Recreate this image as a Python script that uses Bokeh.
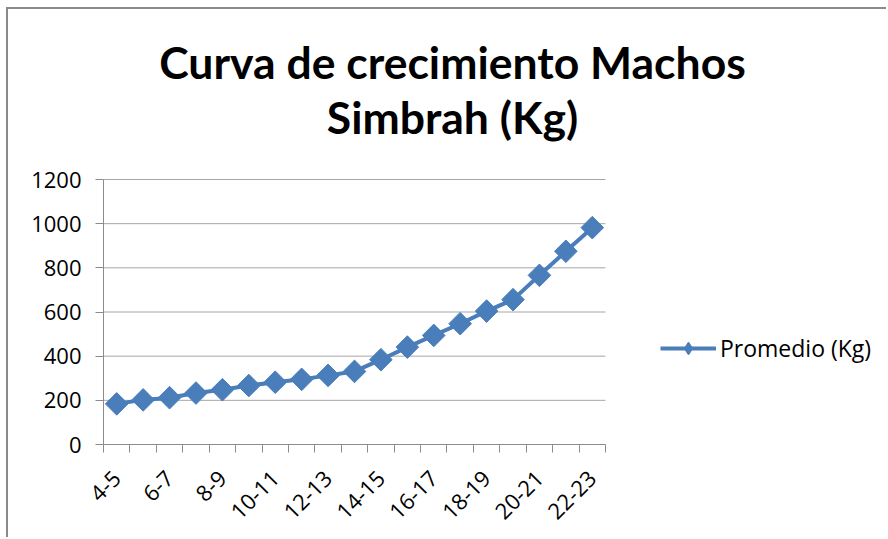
import math
from bokeh.plotting import figure
from bokeh.models import (FixedTicker, Range1d, Label, Legend, LegendItem, ColumnDataSource)
from bokeh.embed import file_html
from bokeh.resources import INLINE

# Data
categories = ["4-5", "5-6", "6-7", "7-8", "8-9", "9-10", "10-11", "11-12", "12-13",
              "13-14", "14-15", "15-16", "16-17", "17-18", "18-19", "19-20", "20-21",
              "21-22", "22-23"]
promedio = [184, 202, 212, 233, 248, 267, 282, 295, 313, 331, 384, 441, 494, 547,
            604, 656, 766, 875, 982]
y_ticks = [0, 200, 400, 600, 800, 1000, 1200]
title_lines = ["Curva de crecimiento Machos", "Simbrah (Kg)"]
series_name = "Promedio (Kg)"

BLUE = "#4A7EBB"
FONT = "Open Sans"
GRID = "#a6a6a6"
AXIS = "#8c8c8c"

n = len(categories)
xs = list(range(n))
src = ColumnDataSource(dict(x=xs, y=promedio, cat=categories))

# frame spans the whole right/top area so that title and legend are not clipped;
# the data area (-0.5..n-0.5, 0..1200) occupies the plot region of the original chart
px_per_cat = 502 / n
x_end = -0.5 + 785 / px_per_cat
px_per_unit = 265 / 1200
y_end = 1200 + 170 / px_per_unit

p = figure(width=880, height=530, output_backend="svg", toolbar_location=None,
           x_range=Range1d(-0.5, x_end), y_range=Range1d(0, y_end),
           min_border_left=95, min_border_right=0, min_border_top=0, min_border_bottom=95)
p.margin = (9, 0, 0, 8)
p.styles = {"box-shadow": "-2px -2px 0 0 #8a8a8a"}
p.outline_line_color = None
p.title.visible = False
p.background_fill_color = "white"
p.border_fill_color = "white"

# Axes
p.xaxis.ticker = FixedTicker(ticks=xs[::2], minor_ticks=[i - 0.5 for i in range(n + 1)])
p.xaxis.bounds = (-0.5, n - 0.5)
p.xaxis.major_label_overrides = {i: categories[i] for i in xs[::2]}
p.xaxis.major_tick_out = 0
p.xaxis.major_tick_in = 0
p.xaxis.minor_tick_out = 8
p.xaxis.minor_tick_in = 0
p.xaxis.minor_tick_line_color = AXIS
p.xaxis.major_label_orientation = math.pi / 4
p.xaxis.major_label_standoff = 22
p.xaxis.axis_line_color = AXIS

p.yaxis.ticker = FixedTicker(ticks=y_ticks)
p.yaxis.bounds = (0, 1200)
p.yaxis.major_tick_out = 8
p.yaxis.major_tick_in = 0
p.yaxis.minor_tick_line_color = None
p.yaxis.major_label_standoff = 14
p.yaxis.axis_line_color = AXIS
p.yaxis.major_tick_line_color = AXIS

for ax in (p.xaxis, p.yaxis):
    ax.major_label_text_font = FONT
    ax.major_label_text_font_size = "22px"
    ax.major_label_text_color = "black"

p.xgrid.grid_line_color = None
p.ygrid.grid_line_color = None

# horizontal gridlines limited to the data area
p.segment(x0=[-0.5] * len(y_ticks), x1=[n - 0.5] * len(y_ticks), y0=y_ticks, y1=y_ticks,
          line_color=GRID, line_width=1, level="underlay")

# Series
r_line = p.line("x", "y", source=src, line_color=BLUE, line_width=4)
r_mark = p.scatter("x", "y", source=src, marker="square", size=16, angle=math.pi / 4,
                   fill_color=BLUE, line_color=BLUE, line_width=1)
# hidden diamond renderer used only for the legend swatch
r_leg = p.scatter("x", "y", source=src, marker="diamond", size=16,
                  fill_color=BLUE, line_color=BLUE, visible=False)

legend = Legend(items=[LegendItem(label=series_name, renderers=[r_line, r_leg])],
                location=(557, 80), glyph_width=56, glyph_height=32, padding=0, margin=0,
                label_standoff=4, label_text_font=FONT, label_text_font_size="23px",
                label_text_color="black", border_line_color=None, background_fill_alpha=0)
p.add_layout(legend, "center")

# Title
p.add_layout(Label(x=349, y=383, x_units="screen", y_units="screen", text=title_lines[0],
                   text_align="center", text_baseline="alphabetic", text_font="Lato",
                   text_font_style="bold", text_font_size="44.5px", text_color="black"))
p.add_layout(Label(x=349, y=328, x_units="screen", y_units="screen", text=title_lines[1],
                   text_align="center", text_baseline="alphabetic", text_font="Lato",
                   text_font_style="bold", text_font_size="44.5px", text_color="black"))

open("out.html", "w").write(file_html(p, INLINE))
